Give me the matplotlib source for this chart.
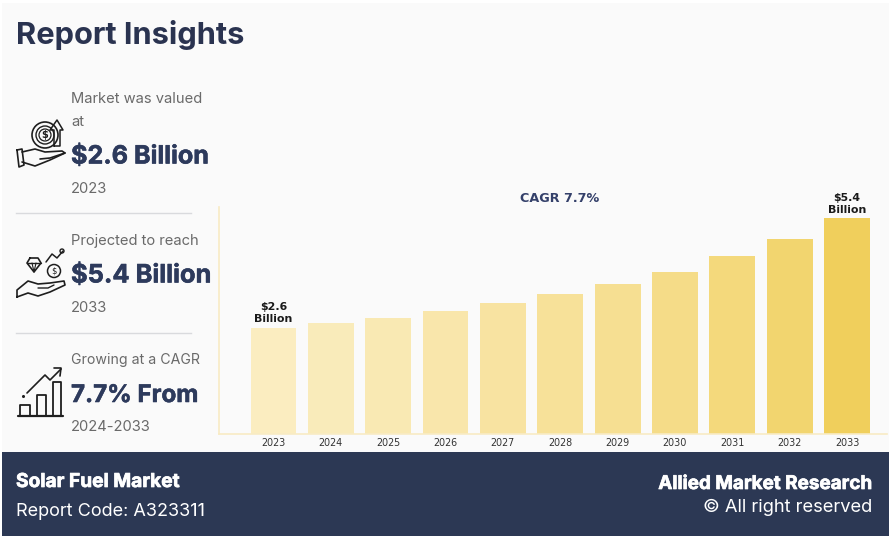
import matplotlib
matplotlib.use("Agg")
import matplotlib.pyplot as plt
from matplotlib.patches import Rectangle, Circle
import matplotlib.patheffects as pe
import numpy as np

years = ["2023","2024","2025","2026","2027","2028","2029","2030","2031","2032","2033"]
values = [2.66,2.77,2.90,3.08,3.28,3.50,3.75,4.06,4.45,4.87,5.40]
bar_colors = ["#FBEDC0","#F9EBBA","#F9E9B3","#F9E6AB","#F8E3A1","#F7E199","#F6DF92","#F5DC88","#F4D97C","#F2D56F","#F0CF5C"]
first_label = "$2.6\nBillion"
last_label = "$5.4\nBillion"
cagr_label = "CAGR 7.7%"

W, H = 889, 536
NAVY = "#2D3A5C"
GREY = "#6A6A6A"
fig = plt.figure(figsize=(W/100, H/100), dpi=100, facecolor="#FFFFFF")

bg = fig.add_axes([0, 0, 1, 1])
bg.set_xlim(0, W); bg.set_ylim(H, 0); bg.axis("off")
bg.add_patch(Rectangle((2, 3), W-2, 450, fc="#FAFAFA", ec="none"))
bg.add_patch(Rectangle((2, 452), W-2, 84, fc="#2C3854", ec="none"))

SANS = "Inter"
def t(x, y, s, size, color=GREY, weight="normal", ha="left", heavy=0):
    o = bg.text(x, y, s, fontsize=size, color=color, fontweight=weight, ha=ha, va="center", family=SANS)
    if heavy:
        o.set_path_effects([pe.withStroke(linewidth=heavy, foreground=color)])

t(16, 35, "Report Insights", 22.2, "#2A3350", "bold")
t(71, 99, "Market was valued", 10.6)
t(71, 122, "at", 10.6)
t(71, 157, "$2.6 Billion", 18.1, NAVY, "bold", heavy=0.4)
t(71, 189, "2023", 10.6)
t(71, 241, "Projected to reach", 10.6)
t(71, 276, "$5.4 Billion", 18.3, NAVY, "bold", heavy=0.4)
t(71, 308, "2033", 10.6)
t(71, 360, "Growing at a CAGR", 10.2)
t(71, 396, "7.7% From", 17.4, NAVY, "bold", heavy=0.4)
t(71, 427, "2024-2033", 10.6)
t(16, 482, "Solar Fuel Market", 13.8, "#FFFFFF", "bold", heavy=0.5)
t(16, 511, "Report Code: A323311", 13, "#FFFFFF")
t(872, 484, "Allied Market Research", 13.6, "#FFFFFF", "bold", ha="right", heavy=0.5)
t(872, 507, "© All right reserved", 13.2, "#FFFFFF", ha="right")

for y in (213, 333):
    bg.plot([16, 191], [y, y], color="#D9DADD", lw=1)

def ln(xs, ys, lw=1.2):
    bg.plot(xs, ys, color="#1E1E1E", lw=lw, solid_capstyle="round", solid_joinstyle="round")

# icon 1: hand under a coin with an arrow
ln([22,35,45,62,65,50,40], [152,149,152,151,153,158,159])
ln([65,50,35,22], [153,160,166,162])
ln([17,22,24,19,17], [150,149,165,167,150])
for r, w in ((13, 1.2), (9, 1.0), (6, 0.9)):
    bg.add_patch(Circle((45, 135), r, fc="none", ec="#1E1E1E", lw=w))
bg.text(45, 135, "$", fontsize=7, ha="center", va="center", color="#1E1E1E", fontweight="bold", family="DejaVu Sans")
ln([54,54,50,57,63,60,60,54], [146,130,130,120,130,130,146,146], 1.1)

# icon 2: hand under a diamond and a coin
ln([17,17,28,38,50,64,65,50,38,28,17], [297,290,281,284,283,281,285,292,296,293,297])
ln([38,48,54],[288,288,285],1.0)
ln([30,38,41,34,27,30], [258,258,263,272,263,258])
ln([27,41],[263,263],1.0)
ln([32,34,36],[263,272,263],0.8)
bg.add_patch(Circle((54, 271), 6.5, fc="none", ec="#1E1E1E", lw=1.1))
bg.text(54, 271, "$", fontsize=6, ha="center", va="center", color="#1E1E1E", family="DejaVu Sans")
ln([46,52,57,63],[262,254,258,251],1.1)
bg.add_patch(Circle((62, 251), 2, fc="none", ec="#1E1E1E", lw=1.0))

# icon 3: rising bars with an arrow
ln([18,63],[416,416],1.6)
for x0,x1,y0 in ((20,30,405),(37,46,395),(53,61,382)):
    ln([x0,x0,x1,x1],[416,y0,y0,416],1.3)
ln([27,45,50,61],[393,375,380,369],1.2)
ln([54,61,60],[368,368,376],1.2)
bg.plot([23],[396],"o",ms=1.2,color="#1E1E1E")

# chart
ax = fig.add_axes([219/W, 1-433.7/H, (887-219)/W, (433.7-207)/H])
ax.patch.set_alpha(0)
x = np.arange(len(years))
slot = 57.35
ax.set_xlim((219-273.5)/slot, (887-273.5)/slot)
ax.set_ylim(0, (433.7-207)/39.9)
ax.bar(x, values, width=0.8, color=bar_colors, linewidth=0)
for s in ("top","right"):
    ax.spines[s].set_visible(False)
for s in ("left","bottom"):
    ax.spines[s].set_color("#F8EBC4"); ax.spines[s].set_linewidth(1.2)
ax.set_yticks([])
ax.set_xticks(x, years, fontsize=6.9, color="#333333", family="DejaVu Sans")
ax.tick_params(axis="x", length=0, pad=3)
for i, s in ((0, first_label), (-1, last_label)):
    ax.text(x[i], values[i]+0.08, s, ha="center", va="bottom", fontsize=7.9, fontweight="bold",
            color="#1A1A1A", linespacing=1.25, family="DejaVu Sans")
bg.text(560, 198, cagr_label, fontsize=9.2, fontweight="bold", color="#34406A", ha="center", va="center", family="DejaVu Sans")

fig.savefig("out.png", dpi=100)
